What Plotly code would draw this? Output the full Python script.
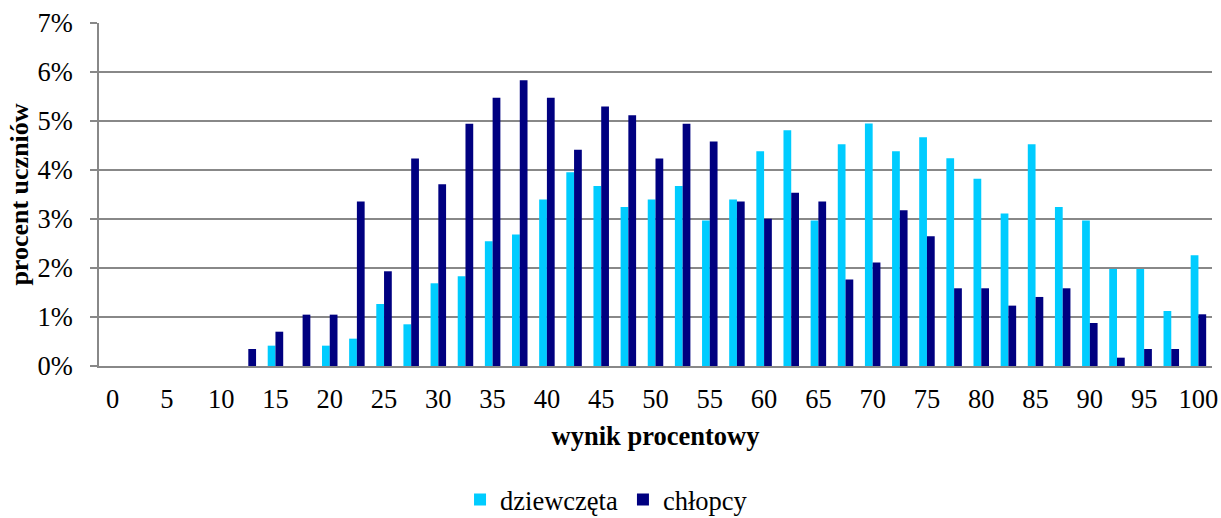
import plotly.graph_objects as go

scores = [i * 2.5 for i in range(41)]
tick_vals = [0, 5, 10, 15, 20, 25, 30, 35, 40, 45, 50, 55, 60, 65, 70, 75, 80, 85, 90, 95, 100]
tick_text = [str(v) for v in tick_vals]

dziewczeta = [0, 0, 0, 0, 0, 0, 0.415, 0, 0.415, 0.558, 1.266, 0.851, 1.688, 1.831,
              2.546, 2.682, 3.397, 3.955, 3.676, 3.247, 3.397, 3.676, 2.968, 3.397,
              4.384, 4.813, 2.968, 4.527, 4.949, 4.384, 4.670, 4.241, 3.819, 3.111,
              4.527, 3.247, 2.968, 1.981, 1.981, 1.123, 2.260]
chlopcy = [0, 0, 0, 0, 0, 0.347, 0.700, 1.048, 1.048, 3.356, 1.933, 4.234, 3.710, 4.942,
           5.473, 5.834, 5.473, 4.411, 5.296, 5.119, 4.234, 4.942, 4.581, 3.356,
           3.003, 3.534, 3.356, 1.763, 2.110, 3.179, 2.648, 1.586, 1.586, 1.232,
           1.409, 1.586, 0.878, 0.170, 0.347, 0.347, 1.055]

font_family = "Liberation Serif"

fig = go.Figure()
fig.add_trace(go.Bar(x=scores, y=[v / 100 for v in dziewczeta], name="dziewczęta",
                     marker=dict(color="#00CCFF", line=dict(width=0))))
fig.add_trace(go.Bar(x=scores, y=[v / 100 for v in chlopcy], name="chłopcy",
                     marker=dict(color="#000080", line=dict(width=0))))

fig.update_layout(
    width=1221, height=518,
    margin=dict(l=99, r=9, t=23, b=152, autoexpand=False),
    paper_bgcolor="white", plot_bgcolor="white",
    barmode="group", bargap=0.4286, bargroupgap=0,
    font=dict(family=font_family, size=26, color="black"),
    showlegend=True,
    legend=dict(orientation="h", x=0.456, xanchor="center", y=-0.39, yanchor="middle",
                font=dict(family=font_family, size=26.5, color="black"), traceorder="normal"),
    xaxis=dict(
        range=[-1.25, 101.25], tickmode="array", tickvals=tick_vals, ticktext=tick_text,
        showgrid=False, zeroline=False, showline=True, linecolor="#888888", linewidth=1.5,
        ticks="", ticklabelstandoff=8, tickfont=dict(family=font_family, size=26.5),
        automargin=False,
        title=dict(text="<b>wynik procentowy</b>", font=dict(family=font_family, size=26.5), standoff=14),
    ),
    yaxis=dict(
        range=[0, 0.07], dtick=0.01, tickformat=".0%",
        showgrid=True, gridcolor="#888888", gridwidth=1.5,
        zeroline=False, showline=True, linecolor="#888888", linewidth=1.5,
        ticks="outside", ticklen=7, tickcolor="#888888", tickwidth=1.5,
        ticklabelstandoff=12, tickfont=dict(family=font_family, size=26.5),
        automargin=False,
        title=dict(text="<b>procent uczniów</b>", font=dict(family=font_family, size=26), standoff=2),
    ),
)

fig.write_html("out.html", config={"displayModeBar": False},
               post_script="document.body.style.margin='0';document.body.style.overflow='hidden';")
